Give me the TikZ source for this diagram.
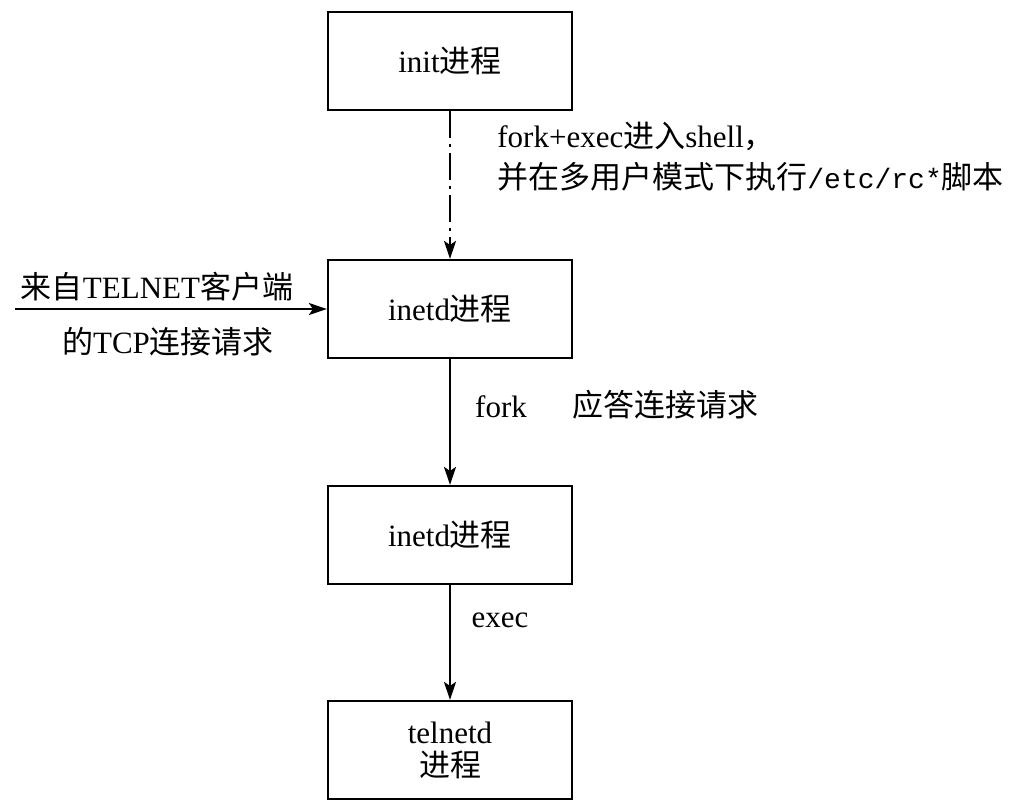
\documentclass[tikz,border=0pt]{standalone}
\usepackage{fontspec}
\setmainfont{Liberation Serif}
\setmonofont{Liberation Mono}
\newfontfamily\cjk{Noto Sans CJK SC}
\usetikzlibrary{arrows.meta}
\newcommand{\zh}[1]{{\cjk #1}}

\tikzset{
  proc/.style={draw, line width=1.1pt, minimum width=122pt, minimum height=49pt,
    align=center, inner sep=0pt},
  arr/.style={line width=1pt, -{Stealth[length=9pt,width=6pt,inset=2pt,sep=0pt]}},
  dashdot/.style={dash pattern=on 13.5pt off 3pt on 1.5pt off 3pt},
  lbl/.style={inner sep=0pt}
}

\begin{document}
\begin{tikzpicture}[x=0.5pt,y=-0.5pt,font=\fontsize{15.5pt}{19pt}\selectfont]
  \useasboundingbox (0,0) rectangle (1017,810);
  % boxes
  \node[proc] (init) at (450,61) {init\zh{进程}};
  \node[proc] (inetdA) at (450,309) {inetd\zh{进程}};
  \node[proc] (inetdB) at (450,535) {inetd\zh{进程}};
  \node[proc, font=\fontsize{15.5pt}{16.5pt}\selectfont] (telnetd) at (450,750) {telnetd\\\zh{进程}};
  \coordinate (tcpsrc) at (15,309);
  % connectors
  \draw[arr,dashdot] (init) -- (inetdA);
  \draw[arr] (tcpsrc) -- (inetdA);
  \draw[arr] (inetdA) -- (inetdB);
  \draw[arr] (inetdB) -- (telnetd);
  % labels
  \node[lbl, anchor=west, align=left, font=\fontsize{15.5pt}{20.5pt}\selectfont] (shellnote) at (497,157)
    {fork+exec\zh{进入}shell\zh{，}\\\zh{并在多用户模式下执行}{\fontsize{14pt}{14pt}\selectfont\ttfamily /etc/rc*}\zh{脚本}};
  \node[lbl] (tcpA) at (157,287) {\zh{来自}TELNET\zh{客户端}};
  \node[lbl] (tcpB) at (168,342) {\zh{的}TCP\zh{连接请求}};
  \node[lbl] (forklbl) at (501,407) {fork};
  \node[lbl] (replylbl) at (665,405) {\zh{应答连接请求}};
  \node[lbl] (execlbl) at (500,620) {exec};
\end{tikzpicture}
\end{document}
